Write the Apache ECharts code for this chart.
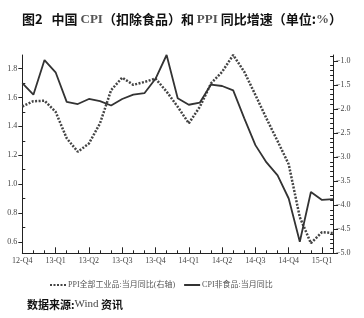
<!DOCTYPE html>
<html>
<head>
<meta charset="utf-8">
<script src="https://cdn.jsdelivr.net/npm/echarts@6/dist/echarts.min.js"></script>
<style>html,body{margin:0;padding:0;background:#fff;}#c{width:364px;height:318px;}</style>
</head>
<body>
<div id="c"></div>
<script>
// Monthly categories, Dec 2012 .. Apr 2015
const months = ['2012-12','2013-01','2013-02','2013-03','2013-04','2013-05','2013-06','2013-07','2013-08','2013-09','2013-10','2013-11','2013-12','2014-01','2014-02','2014-03','2014-04','2014-05','2014-06','2014-07','2014-08','2014-09','2014-10','2014-11','2014-12','2015-01','2015-02','2015-03','2015-04'];
const quarterLabels = ['12-Q4','13-Q1','13-Q2','13-Q3','13-Q4','14-Q1','14-Q2','14-Q3','14-Q4','15-Q1'];
// CPI non-food YoY (left axis, %)
const cpiNonFood = [1.70,1.62,1.86,1.775,1.57,1.555,1.59,1.575,1.545,1.59,1.62,1.63,1.73,1.895,1.595,1.55,1.565,1.69,1.68,1.65,1.456,1.27,1.15,1.06,0.90,0.60,0.945,0.89,0.895];
// PPI all industrial products YoY (right axis, %)
const ppiAll = [-1.95,-1.84,-1.83,-2.06,-2.61,-2.89,-2.72,-2.30,-1.61,-1.35,-1.50,-1.44,-1.37,-1.64,-1.955,-2.30,-1.955,-1.47,-1.23,-0.88,-1.23,-1.71,-2.2,-2.67,-3.15,-4.25,-4.79,-4.56,-4.58];
const leftTicks = [0.6,0.8,1.0,1.2,1.4,1.6,1.8];
const leftMinor = [0.7,0.9,1.1,1.3,1.5,1.7];
const rightTicks = [-5.0,-4.5,-4.0,-3.5,-3.0,-2.5,-2.0,-1.5,-1.0];
const rightMinor = [];
for (let k = -49; k <= -9; k++) { if (k % 5 !== 0) rightMinor.push(k / 10); }

const serif = "'Liberation Serif','DejaVu Serif',serif";
const cjk = "'Noto Sans CJK SC','Noto Sans',sans-serif";
const axisLineStyle = {color:'#222', width:1};

const chart = echarts.init(document.getElementById('c'), null, {renderer:'canvas'});
chart.setOption({
  animation:false,
  backgroundColor:'#fff',
  title:{
    text:'{b|图2}{s|   }{b|中国 }{l|CPI}{b|（扣除食品）和 }{l|PPI}{b| 同比增速（单位:}{l|%}{b|）}',
    left:'center', top:8,
    textStyle:{rich:{
      b:{fontFamily:cjk, fontWeight:'bold', fontSize:13, color:'#111'},
      s:{fontFamily:cjk, fontSize:13},
      l:{fontFamily:serif, fontSize:13, color:'#555'}
    }}
  },
  grid:{left:22.3, right:30.9, top:55, bottom:64.7, containLabel:false},
  legend:{
    left:44, top:276, itemWidth:16, itemHeight:8, itemGap:8,
    data:['PPI全部工业品:当月同比(右轴)','CPI非食品:当月同比'],
    itemStyle:{opacity:0},
    textStyle:{fontSize:8, color:'#555', fontFamily:"'Liberation Serif','Noto Sans CJK SC',serif", padding:[0,0,0,-3]}
  },
  xAxis:[{
    type:'category', data:months, boundaryGap:false,
    axisLine:{lineStyle:axisLineStyle},
    axisTick:{inside:true, length:3, interval:0, lineStyle:axisLineStyle},
    axisLabel:{interval:function(i){return i%3===0;}, formatter:function(v,i){return quarterLabels[i/3]||'';}, fontFamily:serif, fontSize:8, color:'#444', margin:4},
    splitLine:{show:false}
  },{
    type:'category', data:months, boundaryGap:false, position:'bottom',
    axisLine:{show:false},
    axisTick:{inside:true, length:6, interval:2, lineStyle:axisLineStyle},
    axisLabel:{show:false}, splitLine:{show:false}
  }],
  yAxis:[{
    type:'value', position:'left', min:0.52, max:1.895,
    axisLine:{show:true, lineStyle:axisLineStyle},
    axisTick:{show:true, customValues:leftTicks, length:4, lineStyle:axisLineStyle},
    axisLabel:{customValues:leftTicks, formatter:function(v){return v.toFixed(1);}, fontFamily:serif, fontSize:8, color:'#444', margin:5},
    splitLine:{show:false}
  },{
    type:'value', position:'right', min:-5, max:-0.88,
    axisLine:{show:true, lineStyle:axisLineStyle},
    axisTick:{show:true, customValues:rightTicks, length:5, lineStyle:axisLineStyle},
    axisLabel:{customValues:rightTicks, formatter:function(v){return '−'+Math.abs(v).toFixed(1);}, fontFamily:serif, fontSize:8, color:'#444', margin:3},
    splitLine:{show:false}
  },{
    type:'value', position:'left', min:0.52, max:1.895,
    axisLine:{show:false},
    axisTick:{show:true, inside:true, customValues:leftMinor, length:3, lineStyle:axisLineStyle},
    axisLabel:{show:false}, splitLine:{show:false}
  },{
    type:'value', position:'right', min:-5, max:-0.88,
    axisLine:{show:false},
    axisTick:{show:true, inside:true, customValues:rightMinor, length:3, lineStyle:axisLineStyle},
    axisLabel:{show:false}, splitLine:{show:false}
  }],
  series:[{
    name:'PPI全部工业品:当月同比(右轴)', type:'line', yAxisIndex:1, data:ppiAll,
    symbol:'none', lineStyle:{color:'#444', width:2.5, type:[2,1.5]}, itemStyle:{color:'#444'}
  },{
    name:'CPI非食品:当月同比', type:'line', yAxisIndex:0, data:cpiNonFood,
    symbol:'none', lineStyle:{color:'#333', width:1.8}, itemStyle:{color:'#333'}
  }],
  graphic:[{
    type:'text', left:27, top:299,
    style:{text:'{b|数据来源:}{l|Wind}{b| 资讯}', rich:{
      b:{fontFamily:cjk, fontWeight:'bold', fontSize:11, fill:'#111'},
      l:{fontFamily:serif, fontSize:11, fill:'#444'}
    }}
  }]
});
</script>
</body>
</html>
